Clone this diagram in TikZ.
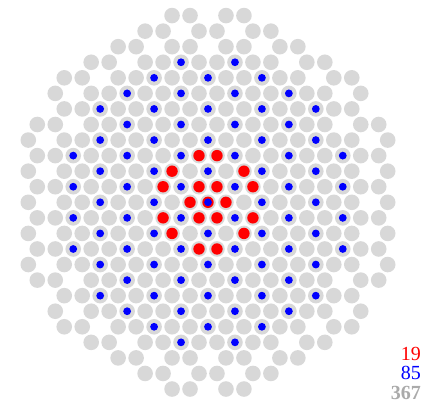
\documentclass[tikz,border=0pt]{standalone}
\usepackage{fontspec}
\setmainfont{Liberation Serif}
\definecolor{dotgray}{RGB}{216,216,216}
\definecolor{numgray}{RGB}{170,170,170}
\tikzset{
  graydot/.style={fill=dotgray},
  reddot/.style={fill=red},
  bluedot/.style={fill=blue},
  countlabel/.style={anchor=base east, inner sep=0pt, font=\fontsize{20}{20}\selectfont}
}
\begin{document}
\begin{tikzpicture}[x=1pt,y=1pt]
\useasboundingbox (0,0) rectangle (438,408);
\def\cx{208}
\def\cy{205.7}
\def\hx{8.985}
\def\vy{15.56}
% gray lattice
\foreach \r in {-12,...,12}{
  \foreach \k in {-22,...,22}{
    \pgfmathtruncatemacro\isl{mod(\k+\r+100,2)==0}
    \pgfmathtruncatemacro\issub{mod(\k+3*\r+120,6)==0}
    \pgfmathtruncatemacro\nf{\k*\k+3*\r*\r}
    \ifnum\isl=1
      \ifnum\issub=1 \def\mylimit{252}\else\def\mylimit{448}\fi
      \ifnum\nf>\mylimit\relax\else
        \fill[graydot] ({\cx+\hx*\k},{\cy-\vy*\r}) circle (7.8);
      \fi
    \fi
  }
}
% red points
\foreach \r in {-3,...,3}{
  \foreach \k in {-6,...,6}{
    \pgfmathtruncatemacro\isl{mod(\k+\r+100,2)==0}
    \pgfmathtruncatemacro\nf{\k*\k+3*\r*\r}
    \ifnum\isl=1
      \pgfmathtruncatemacro\isred{or(or(\nf==0,\nf==4),\nf==28)}
      \ifnum\isred=1
        \fill[reddot] ({\cx+\hx*\k},{\cy-\vy*\r}) circle (5.7);
      \fi
    \fi
  }
}
% blue points
\foreach \r in {-10,...,10}{
  \foreach \k in {-18,...,18}{
    \pgfmathtruncatemacro\issub{mod(\k+3*\r+120,6)==0}
    \pgfmathtruncatemacro\nf{\k*\k+3*\r*\r}
    \ifnum\issub=1
      \ifnum\nf>252\relax\else
        \fill[bluedot] ({\cx+\hx*\k},{\cy-\vy*\r}) circle (3.9);
      \fi
    \fi
  }
}
\node[countlabel, text=red] (nred) at (421,48) {19};
\node[countlabel, text=blue] (nblue) at (421,29) {85};
\node[countlabel, text=numgray, font=\fontsize{20}{20}\selectfont\bfseries] (ngray) at (421,9) {367};
\end{tikzpicture}
\end{document}
